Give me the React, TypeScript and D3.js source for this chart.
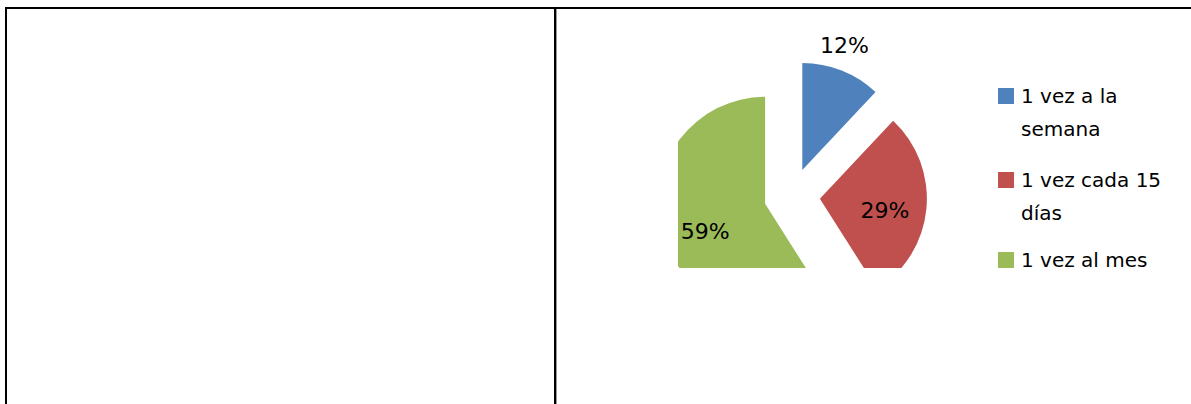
import React from "react";
import * as d3 from "d3";

const categories = ["1 vez a la semana", "1 vez cada 15 días", "1 vez al mes"];
const legendLines = [["1 vez a la", "semana"], ["1 vez cada 15", "días"], ["1 vez al mes"]];
const values = [12, 29, 59];
const colors = ["#4F81BD", "#C0504D", "#9BBB59"];

const W = 1191;
const H = 404;

export default function App() {
  const cx = 792;
  const cy = 196;
  const r = 107;
  const explode = 28;
  const total = d3.sum(values);
  const pie = d3.pie<number>().sort(null).startAngle(0).endAngle(2 * Math.PI)(values);
  const arc = d3.arc<d3.PieArcDatum<number>>().innerRadius(0).outerRadius(r);
  const font = "'DejaVu Sans', sans-serif";

  const offset = (a: number, d: number) => [Math.sin(a) * d, -Math.cos(a) * d];
  const labelR = [r + 24, 66, 66];
  const labelNudge = [-0.05, 0.08, -0.15];

  return (
    <svg width={W} height={H} style={{ position: "absolute", left: 0, top: 0, background: "#fff" }}>
      <defs>
        <clipPath id="plotClip">
          <rect x={678} y={20} width={320} height={248} />
        </clipPath>
      </defs>
      {/* table borders */}
      <line x1={6} y1={8} x2={W} y2={8} stroke="#000" strokeWidth={2} />
      <line x1={6} y1={7} x2={6} y2={H} stroke="#000" strokeWidth={2} />
      <line x1={555} y1={8} x2={555} y2={H} stroke="#000" strokeWidth={2} />
      <line x1={556.5} y1={9} x2={556.5} y2={H} stroke="#999" strokeWidth={1} />

      <g clipPath="url(#plotClip)">
        {pie.map((p, i) => {
          const mid = (p.startAngle + p.endAngle) / 2;
          const [ox, oy] = offset(mid, explode);
          return (
            <path key={i} d={arc(p) || ""} fill={colors[i]} transform={`translate(${cx + ox},${cy + oy})`} />
          );
        })}
      </g>
      {pie.map((p, i) => {
        const mid = (p.startAngle + p.endAngle) / 2;
        const [ox, oy] = offset(mid, explode);
        const [lx, ly] = offset(mid + labelNudge[i], labelR[i]);
        return (
          <text
            key={"l" + i}
            x={cx + ox + lx}
            y={cy + oy + ly}
            textAnchor="middle"
            dominantBaseline="central"
            fontFamily={font}
            fontSize={22}
            fill="#000"
          >
            {Math.round((values[i] / total) * 100)}%
          </text>
        );
      })}

      {/* legend */}
      {categories.map((c, i) => {
        const y0 = [88, 172, 252][i];
        return (
          <g key={c}>
            <rect x={998} y={y0} width={16} height={16} fill={colors[i]} />
            {legendLines[i].map((t, j) => (
              <text key={j} x={1021} y={y0 + 15 + j * 33} fontFamily={font} fontSize={20} fill="#000">
                {t}
              </text>
            ))}
          </g>
        );
      })}
    </svg>
  );
}
